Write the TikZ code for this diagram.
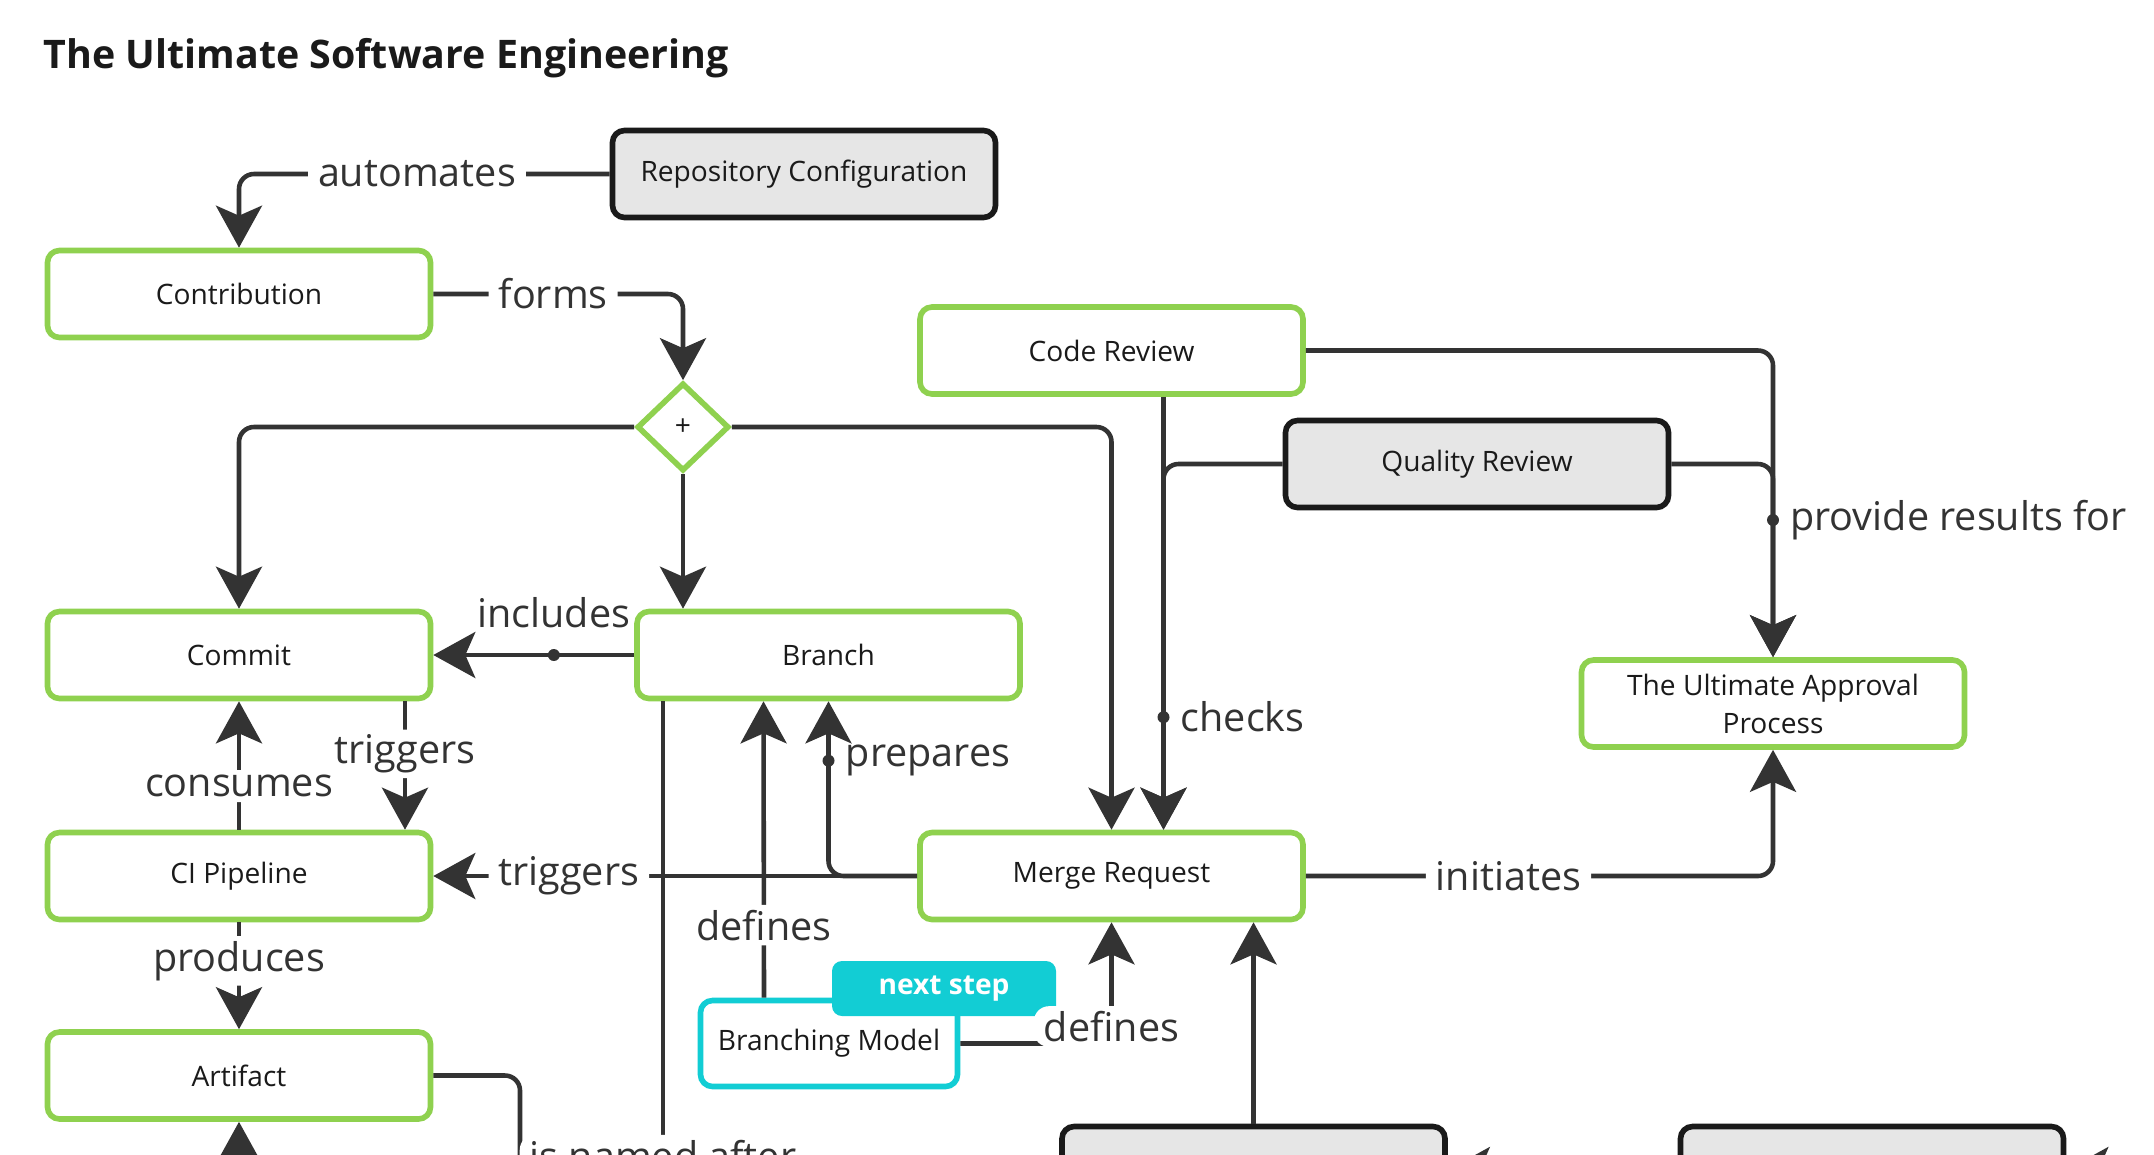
\documentclass[tikz,border=0pt]{standalone}
\usepackage{fontspec}
\setmainfont{Open Sans}
\usepackage{tikz}
\usetikzlibrary{
    arrows.meta,
    shapes.geometric, calc
}
\definecolor{ugreen}{HTML}{8FD14F}
\definecolor{ucyan}{HTML}{12CDD4}
\definecolor{ugray}{HTML}{E6E6E6}
\definecolor{uline}{HTML}{333333}
\definecolor{uink}{HTML}{1A1A1A}

\tikzset{
    ubox/.style={draw=ugreen, line width=1.6pt, rounded corners=0.12cm, fill=white,
        minimum width=3.83cm, minimum height=0.87cm, text=uink, align=center},
    gbox/.style={ubox, draw=uink, fill=ugray},
    gate/.style={diamond, draw=ugreen, line width=1.6pt, fill=white,
        minimum width=0.92cm, minimum height=0.88cm, inner sep=0pt, text=uink},
    tag/.style={fill=ucyan, rounded corners=0.1cm, text=white,
        font=\fontsize{8}{10}\selectfont\bfseries, minimum width=2.24cm, minimum height=0.55cm},
    conn/.style={draw=uline, line width=1.3pt, rounded corners=0.15cm,
        -{Stealth[length=0.42cm, width=0.46cm, inset=0.1cm]}},
    lbl/.style={fill=white, text=uline, font=\fontsize{11.25}{13}\selectfont,
        inner xsep=0.1cm, inner ysep=0.05cm},
    side/.style={lbl, fill=none, right, xshift=0.05cm},
    knot/.style={circle, fill=uline, inner sep=0pt, minimum size=0.12cm}
}

\begin{document}
\begin{tikzpicture}[font=\fontsize{8}{10.8}\selectfont]
        \useasboundingbox (0, 0) rectangle (21.54, -11.54);
        \clip (0, 0) rectangle (21.54, -11.54);
        \node[anchor=base west, inner sep=0pt, text=uink, font=\fontsize{11.2}{14}\selectfont\bfseries]
            (title) at (0.43, -0.68) {The Ultimate Software Engineering};

        \node[gbox] (repo) at (8.04, -1.74) {Repository Configuration};
        \node[ubox] (contrib) at (2.39, -2.94) {Contribution};
        \node[gate] (split) at (6.83, -4.27) {+};
        \node[ubox] (code) at (11.115, -3.505) {Code Review};
        \node[gbox] (quality) at (14.77, -4.64) {Quality Review};
        \node[ubox] (commit) at (2.39, -6.55) {Commit};
        \node[ubox] (branch) at (8.285, -6.55) {Branch};
        \node[ubox] (approve) at (17.73, -7.035) {The Ultimate Approval\\Process};
        \node[ubox] (ci) at (2.39, -8.76) {CI Pipeline};
        \node[ubox] (merge) at (11.115, -8.76) {Merge Request};
        \node[ubox, draw=ucyan, minimum width=2.57cm, minimum height=0.86cm] (bm) at (8.29, -10.435) {Branching Model};
        \node[tag] (bmtag) at (9.44, -9.885) {next step};
        \node[ubox] (art) at (2.39, -10.755) {Artifact};
        \node[gbox] (dboxa) at (12.535, -11.7) {};
        \node[gbox] (dboxb) at (18.72, -11.7) {};

        \coordinate (artIn) at (2.39, -12.6);
        \coordinate (artOut) at (5.2, -13);
        \coordinate (nameEnd) at (6.63, -13);
        \coordinate (inA) at (15.6, -11.7);
        \coordinate (inB) at (21.8, -11.7);

        \draw[conn] (repo.west) -| node[lbl, pos=0.26] {automates} (contrib.north);
        \draw[conn] (contrib.east) -| node[lbl, pos=0.24] {forms} (split.north);
        \draw[conn] (split.west) -| (commit.north);
        \draw[conn] (split.south) -- (split.south |- branch.north);
        \draw[conn] (split.east) -| (merge.north);
        \draw[conn] ([xshift=0.52cm]code.south) -- node[knot, pos=0.74] {}
            node[side, pos=0.74] {checks} ([xshift=0.52cm]merge.north);
        \draw[conn] (quality.west) -| ([xshift=0.52cm]merge.north);
        \draw[conn] (code.east) -| (approve.north);
        \draw[conn] (quality.east) -| node[knot, pos=0.645] {}
            node[side, pos=0.645] {provide results for} (approve.north);
        \draw[conn] (merge.east) -| node[lbl, pos=0.217] {initiates} (approve.south);

        \draw[conn] (branch.west) -- node[knot, pos=0.4] {}
            node[lbl, fill=none, above=0.2cm, pos=0.4] {includes} (commit.east);
        \draw[conn] ([xshift=1.66cm]commit.south) -- node[lbl, pos=0.41] {triggers} ([xshift=1.66cm]ci.north);
        \draw[conn] (ci.north) -- node[lbl, pos=0.34] {consumes} (commit.south);
        \draw[conn] (ci.south) -- node[lbl, pos=0.36] {produces} (art.north);
        \draw[conn] (artIn) -- (art.south);
        \draw[conn] (art.east) -| (artOut);
        \draw[conn] ([xshift=-1.655cm]branch.south) -- node[lbl, pos=0.758] {is named after} (nameEnd);

        \draw[conn] (merge.west) -- node[lbl, pos=0.72] {triggers} (ci.east);
        \draw[conn] (merge.west) -| node[knot, pos=0.83] {}
            node[side, pos=0.83] {prepares} (branch.south);
        \draw[conn] ([xshift=-0.65cm]bm.north) -- node[lbl, pos=0.245] {defines} ([xshift=-0.65cm]branch.south);
        \draw[conn] (bm.east) -| node[lbl, pos=0.5, yshift=0.17cm] {defines} (merge.south);
        \draw[conn] (dboxa.north) -- (dboxa.north |- merge.south);
        \draw[conn] (inA) -- (dboxa.east);
        \draw[conn] (inB) -- (dboxb.east);
    \end{tikzpicture}
\end{document}
